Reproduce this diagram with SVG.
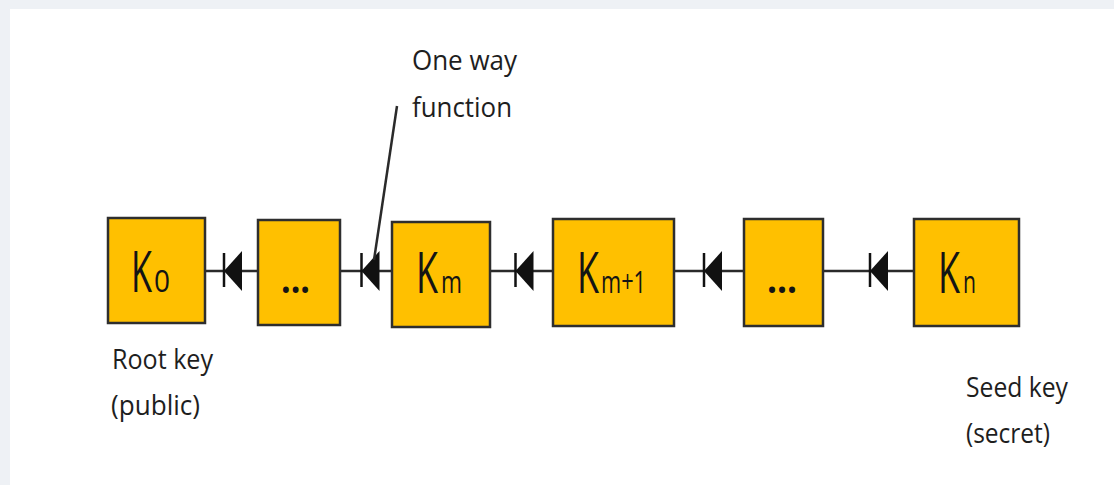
<svg xmlns="http://www.w3.org/2000/svg" width="1114" height="485" viewBox="0 0 1114 485">
  <style>
    .key { fill: #FFC000; stroke: #2e2e2e; stroke-width: 2.5; }
    .wire { fill: none; stroke: #2a2a2a; stroke-width: 2.5; }
    .lbl { font-family: "Open Sans", "Liberation Sans", sans-serif; font-size: 28px; fill: #1e1e1e; }
    .big { font-family: "Open Sans", "Liberation Sans", sans-serif; font-size: 56px; fill: #141414; }
    .sub { font-size: 31px; }
    .dots { font-family: "Open Sans", "Liberation Sans", sans-serif; font-size: 40px; font-weight: bold; fill: #141414; }
  </style>
  <defs>
    <!-- one-way function symbol: filled triangle with a bar at its tip -->
    <marker id="oneway" markerUnits="userSpaceOnUse" viewBox="-12 -22 24 44" refX="0" refY="0" markerWidth="24" markerHeight="44" orient="auto" overflow="visible">
      <path d="M -9 -20 L 9 0 L -9 20 Z" fill="#111"/>
      <line x1="9" y1="-16" x2="9" y2="18" stroke="#111" stroke-width="2.5"/>
    </marker>
  </defs>

  <!-- page backdrop -->
  <rect x="0" y="0" width="1114" height="485" fill="#eef1f5"/>
  <rect x="10" y="9" width="1104" height="476" fill="#ffffff"/>

  <!-- connectors -->
  <g id="connectors">
    <path class="wire" d="M 258 271 L 233 271 L 205 271" marker-mid="url(#oneway)"/>
    <path class="wire" d="M 392 271 L 370.5 271 L 340 271" marker-mid="url(#oneway)"/>
    <path class="wire" d="M 553 271 L 524.5 271 L 490 271" marker-mid="url(#oneway)"/>
    <path class="wire" d="M 744 271 L 713 271 L 674 271" marker-mid="url(#oneway)"/>
    <path class="wire" d="M 914 271 L 879 271 L 823 271" marker-mid="url(#oneway)"/>
    <line id="leader" class="wire" x1="397" y1="106" x2="374" y2="260"/>
  </g>

  <!-- key chain -->
  <g id="k0">
    <rect class="key" x="108" y="218" width="97" height="105"/>
    <text class="big" x="131" y="292"><tspan textLength="21" lengthAdjust="spacingAndGlyphs">K</tspan><tspan class="sub" x="154" textLength="16" lengthAdjust="spacingAndGlyphs">0</tspan></text>
  </g>
  <g id="dots1">
    <rect class="key" x="258" y="220" width="82" height="105"/>
    <text class="dots" x="281" y="293" textLength="29" lengthAdjust="spacingAndGlyphs">...</text>
  </g>
  <g id="km">
    <rect class="key" x="392" y="222" width="98" height="105"/>
    <text class="big" x="416" y="293"><tspan textLength="22" lengthAdjust="spacingAndGlyphs">K</tspan><tspan class="sub" x="441" textLength="21" lengthAdjust="spacingAndGlyphs">m</tspan></text>
  </g>
  <g id="km1">
    <rect class="key" x="553" y="219" width="121" height="107"/>
    <text class="big" x="577" y="293"><tspan textLength="22" lengthAdjust="spacingAndGlyphs">K</tspan><tspan class="sub" x="601" textLength="45" lengthAdjust="spacingAndGlyphs">m+1</tspan></text>
  </g>
  <g id="dots2">
    <rect class="key" x="744" y="219" width="79" height="107"/>
    <text class="dots" x="767" y="293" textLength="30" lengthAdjust="spacingAndGlyphs">...</text>
  </g>
  <g id="kn">
    <rect class="key" x="914" y="219" width="105" height="107"/>
    <text class="big" x="938" y="293"><tspan textLength="22" lengthAdjust="spacingAndGlyphs">K</tspan><tspan class="sub" x="963" textLength="13" lengthAdjust="spacingAndGlyphs">n</tspan></text>
  </g>

  <!-- annotations -->
  <g id="label-oneway">
    <text class="lbl" x="412" y="70" textLength="105" lengthAdjust="spacingAndGlyphs">One way</text>
    <text class="lbl" x="412" y="117" textLength="100" lengthAdjust="spacingAndGlyphs">function</text>
  </g>
  <g id="label-root">
    <text class="lbl" x="112" y="369" textLength="101" lengthAdjust="spacingAndGlyphs">Root key</text>
    <text class="lbl" x="111" y="415" textLength="89" lengthAdjust="spacingAndGlyphs">(public)</text>
  </g>
  <g id="label-seed">
    <text class="lbl" x="966" y="397" textLength="102" lengthAdjust="spacingAndGlyphs">Seed key</text>
    <text class="lbl" x="966" y="443" textLength="84" lengthAdjust="spacingAndGlyphs">(secret)</text>
  </g>
</svg>
